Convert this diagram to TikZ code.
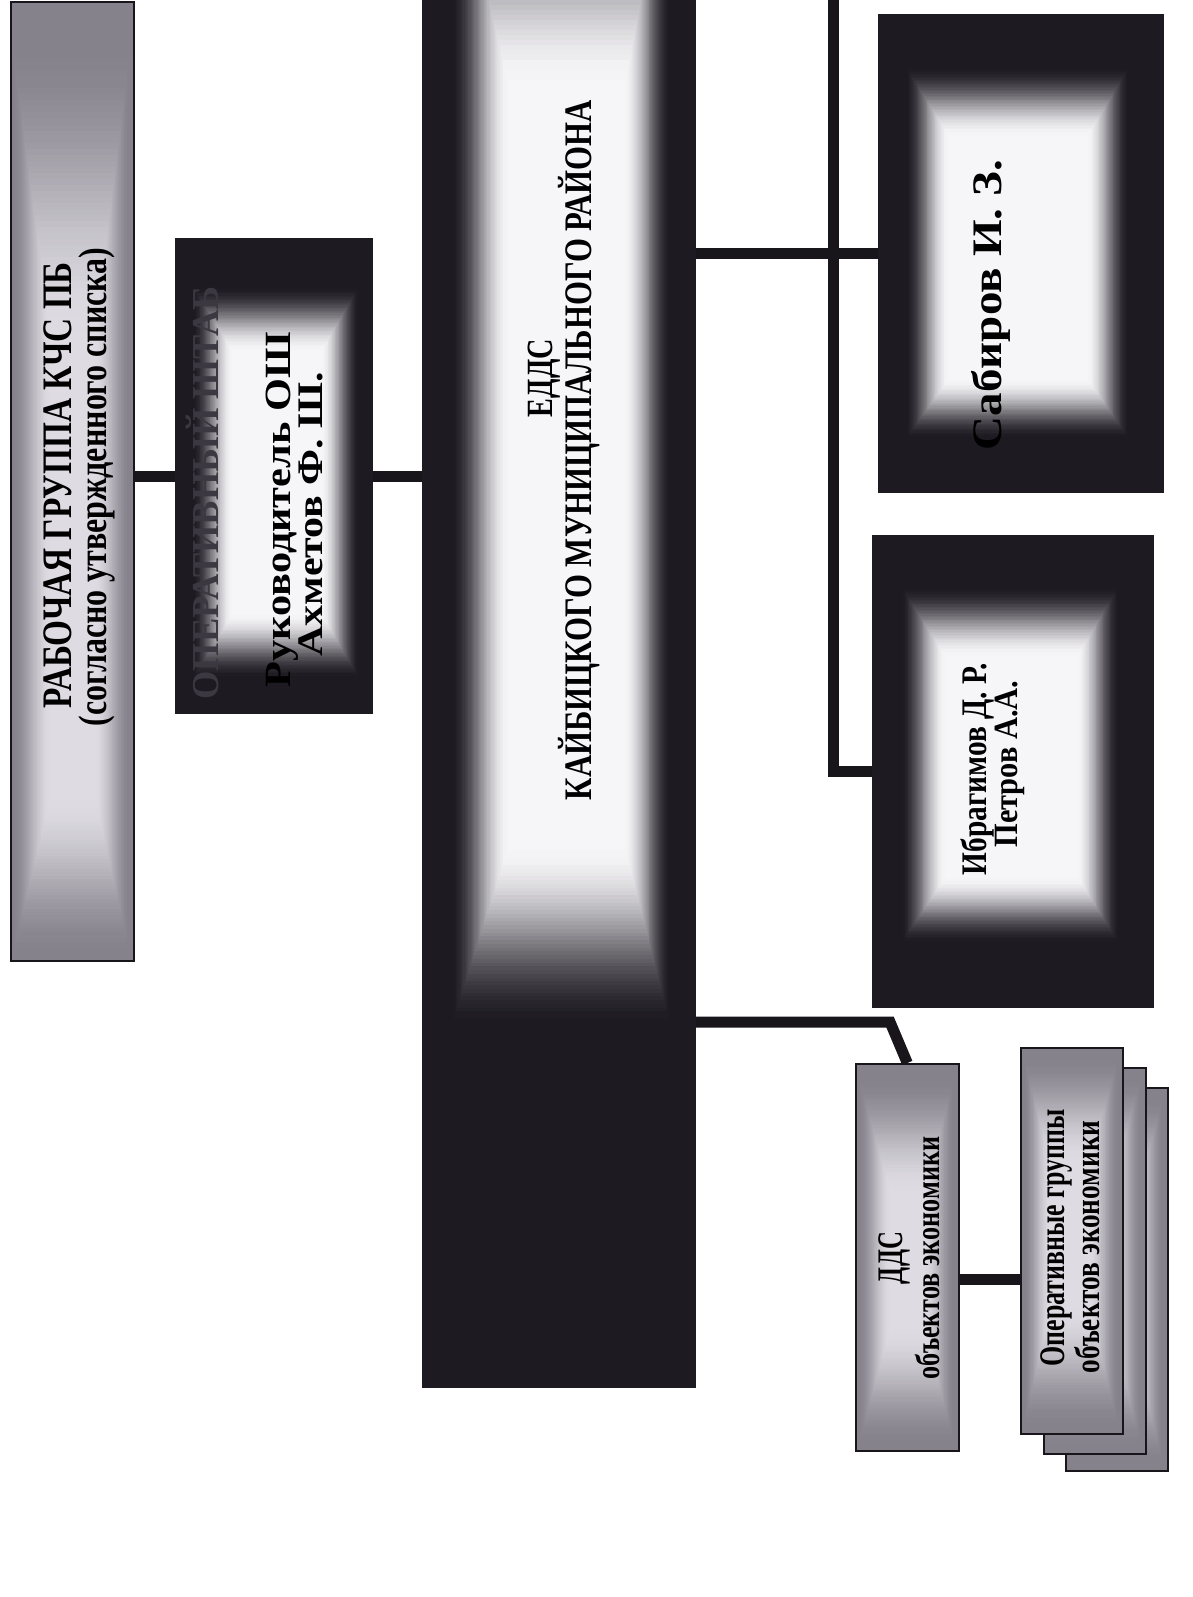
\documentclass[tikz,border=0pt]{standalone}
\usepackage{fontspec}
\usepackage{graphicx}
\setmainfont{Liberation Serif}
\usetikzlibrary{calc}
\definecolor{dk}{HTML}{1D1A21}
\definecolor{wh}{HTML}{F6F5F8}
\definecolor{gr}{HTML}{86828C}
\definecolor{lgr}{HTML}{DEDCE2}
\definecolor{ln}{HTML}{18151B}
\definecolor{hdr}{HTML}{3C3842}
% rectangular gradient: box corners #1 #2, dark limit #3 #4, core #5 #6, outer #7, inner #8
\newcommand\rgrad[8]{%
  \begin{scope}
    \clip #1 rectangle #2;
    \fill[#7] #1 rectangle #2;
    \foreach \i in {0,...,48}{%
      \pgfmathsetmacro\t{\i/48}%
      \pgfmathtruncatemacro\p{100*(3*\t*\t-2*\t*\t*\t)}%
      \fill[#8!\p!#7] ($#3!\t!#5$) rectangle ($#4!\t!#6$);
    }
  \end{scope}}
% text line: size, length, text
\newcommand\tl[3]{\resizebox{#2pt}{\height}{\fontsize{#1pt}{#1pt}\selectfont\bfseries #3}}
\tikzset{
  boxn/.style={rectangle, inner sep=0pt, anchor=north west},
  greybox/.style={boxn, draw=ln, line width=1.6pt},
  darkbox/.style={boxn, draw=dk, line width=1pt},
  txt/.style={rotate=90, inner sep=0pt, anchor=base, text=black},
  conn/.style={draw=ln, line width=11pt},
}
\begin{document}
\begin{tikzpicture}[x=1pt,y=-1pt]
\useasboundingbox (0,0) rectangle (1192,1597);
\fill[white] (0,0) rectangle (1192,1597);

% ---------- gradients ----------
\rgrad{(10,1)}{(133,960)}{(12,40)}{(131,958)}{(50,330)}{(95,800)}{gr}{lgr}
\rgrad{(175,238)}{(372,713)}{(192,285)}{(360,680)}{(232,350)}{(322,615)}{dk}{wh}
\rgrad{(422,-10)}{(695,1387)}{(450,-160)}{(672,1030)}{(508,80)}{(625,850)}{dk}{wh}
\rgrad{(878,14)}{(1163,492)}{(905,65)}{(1130,440)}{(948,135)}{(1088,380)}{dk}{wh}
\rgrad{(872,535)}{(1153,1007)}{(900,585)}{(1120,945)}{(945,655)}{(1078,878)}{dk}{wh}
\rgrad{(855,1063)}{(958,1450)}{(858,1075)}{(955,1447)}{(890,1190)}{(925,1330)}{gr}{lgr}

% ---------- boxes ----------
\node[greybox, minimum width=123pt, minimum height=959pt] (rab) at (10,1) {};
\node[darkbox, minimum width=197pt, minimum height=475pt] (osh) at (175,238) {};
\node[darkbox, minimum width=273pt, minimum height=1397pt] (edds) at (422,-10) {};
\node[darkbox, minimum width=285pt, minimum height=478pt] (sab) at (878,14) {};
\node[darkbox, minimum width=281pt, minimum height=472pt] (ibr) at (872,535) {};
\node[greybox, minimum width=103pt, minimum height=387pt] (dds) at (855,1063) {};

\rgrad{(1065,1087)}{(1167,1470)}{(1068,1095)}{(1164,1467)}{(1095,1200)}{(1135,1350)}{gr}{lgr}
\node[greybox, minimum width=102pt, minimum height=383pt] (og3) at (1065,1087) {};
\rgrad{(1043,1067)}{(1145,1453)}{(1046,1075)}{(1142,1450)}{(1073,1180)}{(1113,1330)}{gr}{lgr}
\node[greybox, minimum width=102pt, minimum height=386pt] (og2) at (1043,1067) {};
\rgrad{(1020,1047)}{(1122,1433)}{(1023,1055)}{(1119,1430)}{(1050,1160)}{(1090,1310)}{gr}{lgr}
\node[greybox, minimum width=102pt, minimum height=386pt] (og1) at (1020,1047) {};

% ---------- connectors ----------
\draw[conn] (rab.east |- osh.west) -- (osh.west);
\draw[conn] (osh.east) -- (osh.east -| edds.west);
\draw[conn] (edds.east |- sab.west) -- (sab.west);
\coordinate (busTop) at (833,-2);
\draw[conn] (busTop) |- (ibr.west);
\coordinate (ddsBend) at (890,1022);
\draw[conn] (edds.east |- ddsBend) -- (ddsBend) -- (dds.north);
\draw[conn] ([yshift=-22pt]dds.east) -- ([yshift=-22pt]dds.east -| og1.west);

% ---------- texts ----------
\node[txt] (rabA) at (71,485) {\tl{42}{446}{РАБОЧАЯ ГРУППА КЧС ПБ}};
\node[txt] (rabB) at (106,487) {\tl{40}{479}{(согласно утвержденного списка)}};
\node[txt, text=hdr] (oshH) at (218,493) {\tl{38}{413}{ОПЕРАТИВНЫЙ ШТАБ}};
\node[txt] (oshA) at (290,510) {\tl{37}{355}{Руководитель ОШ}};
\node[txt] (oshB) at (322,514) {\tl{36}{285}{Ахметов Ф. Ш.}};
\node[txt] (eddsA) at (552,378) {\tl{37}{78}{ЕДДС}};
\node[txt] (eddsB) at (591,450) {\tl{39}{700}{КАЙБИЦКОГО МУНИЦИПАЛЬНОГО РАЙОНА}};
\node[txt] (sabA) at (1001,305) {\tl{42}{290}{Сабиров И. З.}};
\node[txt] (ibrA) at (986,769) {\tl{36}{212}{Ибрагимов Д. Р.}};
\node[txt] (ibrB) at (1017,764) {\tl{34}{167}{Петров А.А.}};
\node[txt] (ddsA) at (902,1258) {\tl{36}{52}{ДДС}};
\node[txt] (ddsB) at (939,1258) {\tl{34}{243}{объектов экономики}};
\node[txt] (ogA) at (1064,1238) {\tl{36}{257}{Оперативные группы}};
\node[txt] (ogB) at (1099,1247) {\tl{35}{253}{объектов экономики}};
\end{tikzpicture}
\end{document}
